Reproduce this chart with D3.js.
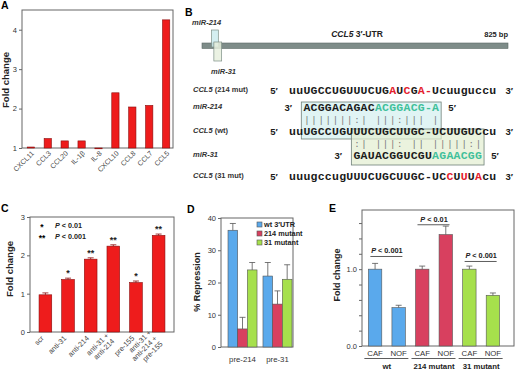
<!DOCTYPE html>
<html><head><meta charset="utf-8">
<script src="https://cdn.jsdelivr.net/npm/d3@7"></script>
<style>
body{margin:0;background:#fff}
svg{display:block;font-family:"Liberation Sans",Arial,sans-serif}
</style></head><body>
<svg id="fig" width="520" height="378"></svg>
<script>
// ---- panel A data
var genesA = ["CXCL11","CCL3","CCL20","IL-1β","IL-8","CXCL10","CCL8","CCL7","CCL5"];
var foldA = [1.025,1.24,1.18,1.18,0.99,2.40,2.04,2.08,4.25];
var ticksA = [1,2,3,4];

// ---- panel B data
var utrLength = 825;
var siteNames = ["miR-214","miR-31"];
var siteStart = [26,32];
var siteEnd = [44,53];
var seqLabels = ["CCL5|(214 mut)","miR-214|","CCL5|(wt)","miR-31|","CCL5|(31 mut)"];
var seqs = ["uuUGCCUGUUUCUGAUCGA-Ucuuguccu","ACGGACAGACACGGACG-A","uuUGCCUGUUUCUGCUUGC-UCUUGUCcu","GAUACGGUCGUAGAACGG","uuugccugUUUCUGCUUGC-UCCUUUAcu"];
var seqOffset = [0,2,0,9,0];
var seqEnds = [["5′","3′"],["3′","5′"],["5′","3′"],["3′","5′"],["5′","3′"]];
var pairs214 = "|||||||:| |||:||| |";
var pairs31 = ":| |||: || |||||:|";
var mutated = [[14,16,18,19],[],[],[],[22,24,26]];
var seedFrom = [null,10,null,11,null];

// ---- panel C data
var groupsC = [["scr"],["anti-31"],["anti-214"],["anti-31 +","anti-214"],["pre-155"],["anti-31 +","anti-214 +","pre-155"]];
var foldC = [0.97,1.37,1.90,2.24,1.29,2.52];
var errC = [0.05,0.035,0.035,0.035,0.04,0.035];
var starsC = ["","*","**","**","*","**"];
var ticksC = [0,1,2,3];

// ---- panel D data
var groupsD = ["pre-214","pre-31"];
var seriesD = ["wt 3′UTR","214 mutant","31 mutant"];
var repD = [[36.2,5.6,23.9],[22.0,13.3,21.0]];
var errD = [[2.1,3.6,2.3],[4.2,4.1,4.5]];
var ticksD = [0,10,20,30,40];

// ---- panel E data
var groupsE = ["wt","214 mutant","31 mutant"];
var cellsE = ["CAF","NOF"];
var foldE = [[1.0,0.50],[1.0,1.45],[1.0,0.66]];
var errE = [[0.075,0.03],[0.04,0.11],[0.04,0.03]];
var pLabelE = ["0.001","0.01","0.001"];
var bracketE = [1.165,1.578,1.10];

var colRed = "#ee1c1c", colRedEdge = "#8a0c0c";
var seriesCol = ["#5aa9ec","#d8405f","#a6e04c"];
var axisCol = "#666", txtCol = "#333";

var svg = d3.select("#fig");

function panelLetter(t,x,y){
  svg.append("text").attr("x",x).attr("y",y).attr("font-size",10.5).attr("font-weight","bold").text(t);
}
function yTitle(t,x,y,fs){
  svg.append("text").attr("transform","translate("+x+","+y+") rotate(-90)")
    .attr("text-anchor","middle").attr("font-size",fs).attr("font-weight","bold").attr("fill","#222").text(t);
}
function frame(x0,y0,x1,y1){
  svg.append("rect").attr("x",x0).attr("y",y0).attr("width",x1-x0).attr("height",y1-y0)
    .attr("fill","none").attr("stroke",axisCol).attr("stroke-width",1);
}
function leftAxis(y,x,ticks,fmt){
  var g = svg.append("g").attr("transform","translate("+x+",0)")
    .call(d3.axisLeft(y).tickValues(ticks).tickSize(3).tickPadding(2).tickFormat(fmt||d3.format("d")));
  g.select(".domain").remove();
  g.selectAll("line").attr("stroke",axisCol);
  g.selectAll("text").attr("font-size",7.5).attr("fill",txtCol).attr("font-family","Liberation Sans, Arial, sans-serif");
  return g;
}

// ================= A
panelLetter("A",1,9);
var yA = d3.scaleLinear().domain([1,4.5]).range([148,10]);
var xA = d3.scaleBand().domain(genesA).range([23,174]).paddingInner(0.57).paddingOuter(0.25);
frame(22,10,173,148);
leftAxis(yA,22,ticksA);
svg.append("g").selectAll("rect").data(genesA).enter().append("rect")
  .attr("x",function(d){return xA(d);})
  .attr("width",xA.bandwidth())
  .attr("y",function(d,i){return Math.min(yA(foldA[i]),yA(1));})
  .attr("height",function(d,i){return Math.max(0.8,Math.abs(yA(1)-yA(foldA[i])));})
  .attr("fill",colRed).attr("stroke",colRedEdge).attr("stroke-width",0.6);
svg.append("g").selectAll("text").data(genesA).enter().append("text")
  .attr("transform",function(d){return "translate("+(xA(d)+xA.bandwidth()/2+2)+",152) rotate(-45)";})
  .attr("text-anchor","end").attr("dy","0.35em").attr("font-size",7).attr("fill","#444").text(function(d){return d;});
yTitle("Fold change",9,80,9.5);

// ================= B
panelLetter("B",185,16);
var xbp = d3.scaleLinear().domain([0,utrLength]).range([202,508]);
svg.append("rect").attr("x",xbp(0)).attr("y",43).attr("width",xbp(utrLength)-xbp(0)).attr("height",5.5)
  .attr("fill","#7e8c89").attr("stroke","#5d6967").attr("stroke-width",0.6);
var siteFill = ["rgba(205,236,238,0.85)","rgba(232,240,222,0.85)"];
var siteY = [[30,47],[42,61]];
siteNames.forEach(function(n,i){
  svg.append("rect").attr("x",xbp(siteStart[i])).attr("y",siteY[i][0])
    .attr("width",xbp(siteEnd[i])-xbp(siteStart[i])).attr("height",siteY[i][1]-siteY[i][0])
    .attr("fill",siteFill[i]).attr("stroke","#7d8f86").attr("stroke-width",0.7);
});
svg.append("text").attr("x",192).attr("y",25).attr("font-size",7.5).attr("font-weight","bold").attr("font-style","italic").attr("fill","#333").text(siteNames[0]);
svg.append("text").attr("x",211).attr("y",74).attr("font-size",7.5).attr("font-weight","bold").attr("font-style","italic").attr("fill","#333").text(siteNames[1]);
var utrT = svg.append("text").attr("x",357).attr("y",37).attr("text-anchor","middle").attr("font-size",8.5).attr("font-weight","bold").attr("fill","#222");
utrT.append("tspan").attr("font-style","italic").text("CCL5");
utrT.append("tspan").text(" 3′-UTR");
svg.append("text").attr("x",508).attr("y",37).attr("text-anchor","end").attr("font-size",7.5).attr("font-weight","bold").attr("fill","#222").text(utrLength+" bp");

// sequences
var xs = d3.scaleLinear().domain([0,29]).range([289,289+29*7.15]);
var rowY = [94,111,135,159,180];
var pairY = [123,147];
var boxes = [{row:1,len:19,y0:102,y1:139,fill:"rgba(214,240,240,0.75)"},{row:3,len:18,y0:129,y1:165,fill:"rgba(226,238,208,0.7)"}];
boxes.forEach(function(b){
  var o = seqOffset[b.row];
  svg.append("rect").attr("x",xs(o)-2).attr("y",b.y0).attr("width",xs(o+b.len)-xs(o)+4).attr("height",b.y1-b.y0)
    .attr("fill",b.fill).attr("stroke","#6f8079").attr("stroke-width",0.8);
});
seqs.forEach(function(s,r){
  var o = seqOffset[r];
  var g = svg.append("g").attr("font-family","Liberation Mono, DejaVu Sans Mono, monospace").attr("font-weight","bold").attr("font-size",11.5);
  g.selectAll("text").data(s.split("")).enter().append("text")
    .attr("x",function(d,i){return xs(o+i+0.5);}).attr("y",rowY[r]).attr("text-anchor","middle")
    .attr("fill",function(d,i){
      if(mutated[r].indexOf(i)>=0) return "#e3202c";
      if(seedFrom[r]!=null && i>=seedFrom[r]) return "#3fc09a";
      return "#1a1a1a";})
    .text(function(d){return d;});
  svg.append("text").attr("x",xs(o)-15).attr("y",rowY[r]).attr("text-anchor","middle").attr("font-size",9.5).attr("font-weight","bold").attr("fill","#1a1a1a").text(seqEnds[r][0]);
  svg.append("text").attr("x",xs(o+s.length)+13).attr("y",rowY[r]).attr("text-anchor","middle").attr("font-size",9.5).attr("font-weight","bold").attr("fill","#1a1a1a").text(seqEnds[r][1]);
  var parts = seqLabels[r].split("|");
  var lt = svg.append("text").attr("x",193).attr("y",rowY[r]-2).attr("font-size",7.5).attr("font-weight","bold").attr("fill","#333");
  lt.append("tspan").attr("font-style","italic").text(parts[0]);
  if(parts[1]) lt.append("tspan").text(" "+parts[1]);
});
[[pairs214,seqOffset[1]],[pairs31,seqOffset[3]]].forEach(function(p,k){
  svg.append("g").selectAll("text").data(p[0].split("")).enter().append("text")
    .attr("x",function(d,i){return xs(p[1]+i+0.5);}).attr("y",pairY[k]).attr("text-anchor","middle")
    .attr("font-family","Liberation Mono, DejaVu Sans Mono, monospace").attr("font-size",9).attr("fill","#777")
    .text(function(d){return d;});
});

// ================= C
panelLetter("C",1,212);
var yC = d3.scaleLinear().domain([0,3]).range([332,217]);
var xC = d3.scaleBand().domain(d3.range(groupsC.length)).range([30,174]).paddingInner(0.44).paddingOuter(0.4);
frame(30,217,174,332);
leftAxis(yC,30,ticksC);
var gC = svg.append("g");
gC.selectAll("rect").data(foldC).enter().append("rect")
  .attr("x",function(d,i){return xC(i);}).attr("width",xC.bandwidth())
  .attr("y",function(d){return yC(d);}).attr("height",function(d){return yC(0)-yC(d);})
  .attr("fill",colRed).attr("stroke",colRedEdge).attr("stroke-width",0.6);
foldC.forEach(function(v,i){
  var cx = xC(i)+xC.bandwidth()/2;
  gC.append("line").attr("x1",cx).attr("x2",cx).attr("y1",yC(v)).attr("y2",yC(v+errC[i])).attr("stroke",colRedEdge).attr("stroke-width",0.8);
  gC.append("line").attr("x1",cx-3).attr("x2",cx+3).attr("y1",yC(v+errC[i])).attr("y2",yC(v+errC[i])).attr("stroke",colRedEdge).attr("stroke-width",0.8);
  if(starsC[i]) gC.append("text").attr("x",cx).attr("y",yC(v+errC[i])-2).attr("text-anchor","middle").attr("font-size",9).attr("font-weight","bold").attr("fill","#222").text(starsC[i]);
  var t = gC.append("text").attr("transform","translate("+(cx-3)+",337) rotate(-45)").attr("text-anchor","end")
    .attr("font-size",7.2).attr("fill","#444");
  var n = groupsC[i].length;
  groupsC[i].forEach(function(line,j){
    t.append("tspan").attr("x",0).attr("y",(j-(n-1)/2)*8).attr("dy","0.35em").text(line);
  });
});
[["*","0.01"],["**","0.001"]].forEach(function(l,k){
  gC.append("text").attr("x",42).attr("y",230+k*11).attr("text-anchor","middle").attr("font-size",8.5).attr("font-weight","bold").text(l[0]);
  var t = gC.append("text").attr("x",55).attr("y",228+k*11).attr("font-size",7.2).attr("font-weight","bold").attr("fill","#222");
  t.append("tspan").attr("font-style","italic").text("P");
  t.append("tspan").text(" < "+l[1]);
});
yTitle("Fold change",13,269,9.5);

// ================= D
panelLetter("D",187,213);
var yD = d3.scaleLinear().domain([0,40]).range([347,218]);
var x0D = d3.scaleBand().domain(groupsD).range([228,292]).paddingInner(0.17).paddingOuter(0);
var x1D = d3.scaleBand().domain(seriesD).range([0,x0D.bandwidth()]);
frame(221,218,293,347);
leftAxis(yD,221,ticksD);
groupsD.forEach(function(g,gi){
  var gg = svg.append("g").attr("transform","translate("+x0D(g)+",0)");
  gg.selectAll("rect").data(seriesD).enter().append("rect")
    .attr("x",function(s){return x1D(s);}).attr("width",x1D.bandwidth())
    .attr("y",function(s,si){return yD(repD[gi][si]);})
    .attr("height",function(s,si){return yD(0)-yD(repD[gi][si]);})
    .attr("fill",function(s,si){return seriesCol[si];}).attr("stroke","#555").attr("stroke-width",0.6);
  seriesD.forEach(function(s,si){
    var cx = x1D(s)+x1D.bandwidth()/2, top = yD(repD[gi][si]), e = yD(repD[gi][si]+errD[gi][si]);
    gg.append("line").attr("x1",cx).attr("x2",cx).attr("y1",top).attr("y2",e).attr("stroke","#555").attr("stroke-width",0.8);
    gg.append("line").attr("x1",cx-3).attr("x2",cx+3).attr("y1",e).attr("y2",e).attr("stroke","#555").attr("stroke-width",0.8);
  });
  svg.append("text").attr("x",x0D(g)+x0D.bandwidth()/2).attr("y",362).attr("text-anchor","middle").attr("font-size",7.8).attr("fill","#333").text(g);
});
seriesD.forEach(function(s,si){
  svg.append("rect").attr("x",257).attr("y",222+si*9).attr("width",5).attr("height",5).attr("fill",seriesCol[si]).attr("stroke","#555").attr("stroke-width",0.6);
  svg.append("text").attr("x",264).attr("y",227+si*9).attr("font-size",7.3).attr("font-weight","bold").attr("fill","#222").text(s);
});
yTitle("% Repression",200,282,9);

// ================= E
panelLetter("E",329,212);
var yE = d3.scaleLinear().domain([0,1.77]).range([346,210]);
var keysE = [];
groupsE.forEach(function(g,gi){cellsE.forEach(function(c,ci){keysE.push(gi+"-"+ci);});});
var xE = d3.scaleBand().domain(keysE).range([362,506]).paddingInner(0.43).paddingOuter(0.27);
frame(362,210,514,346);
leftAxis(yE,362,d3.range(0,1.7,0.2),function(d){return (Math.abs(d)<1e-9||Math.abs(d-1)<1e-9)?d3.format(".1f")(d):"";});
groupsE.forEach(function(g,gi){
  cellsE.forEach(function(c,ci){
    var k = gi+"-"+ci, v = foldE[gi][ci], e = errE[gi][ci], cx = xE(k)+xE.bandwidth()/2;
    svg.append("rect").attr("x",xE(k)).attr("width",xE.bandwidth()).attr("y",yE(v)).attr("height",yE(0)-yE(v))
      .attr("fill",seriesCol[gi]).attr("stroke","#555").attr("stroke-width",0.6);
    svg.append("line").attr("x1",cx).attr("x2",cx).attr("y1",yE(v)).attr("y2",yE(v+e)).attr("stroke","#555").attr("stroke-width",0.8);
    svg.append("line").attr("x1",cx-3).attr("x2",cx+3).attr("y1",yE(v+e)).attr("y2",yE(v+e)).attr("stroke","#555").attr("stroke-width",0.8);
    svg.append("text").attr("x",cx).attr("y",356).attr("text-anchor","middle").attr("font-size",7.8).attr("fill","#333").text(c);
  });
  var a = xE(gi+"-0"), b = xE(gi+"-1")+xE.bandwidth();
  svg.append("line").attr("x1",a-4).attr("x2",b+3).attr("y1",358.5).attr("y2",358.5).attr("stroke","#333").attr("stroke-width",0.8);
  svg.append("text").attr("x",(a+b)/2).attr("y",369).attr("text-anchor","middle").attr("font-size",7.8).attr("font-weight","bold").attr("fill","#222").text(g);
  var by = yE(bracketE[gi]);
  svg.append("line").attr("x1",a+2).attr("x2",b-3).attr("y1",by).attr("y2",by).attr("stroke","#333").attr("stroke-width",0.8);
  var t = svg.append("text").attr("x",(a+b)/2).attr("y",by-3).attr("text-anchor","middle").attr("font-size",7.3).attr("font-weight","bold").attr("fill","#222");
  t.append("tspan").attr("font-style","italic").text("P");
  t.append("tspan").text(" < "+pLabelE[gi]);
});
yTitle("Fold change",340,275,9);
</script>
</body></html>
